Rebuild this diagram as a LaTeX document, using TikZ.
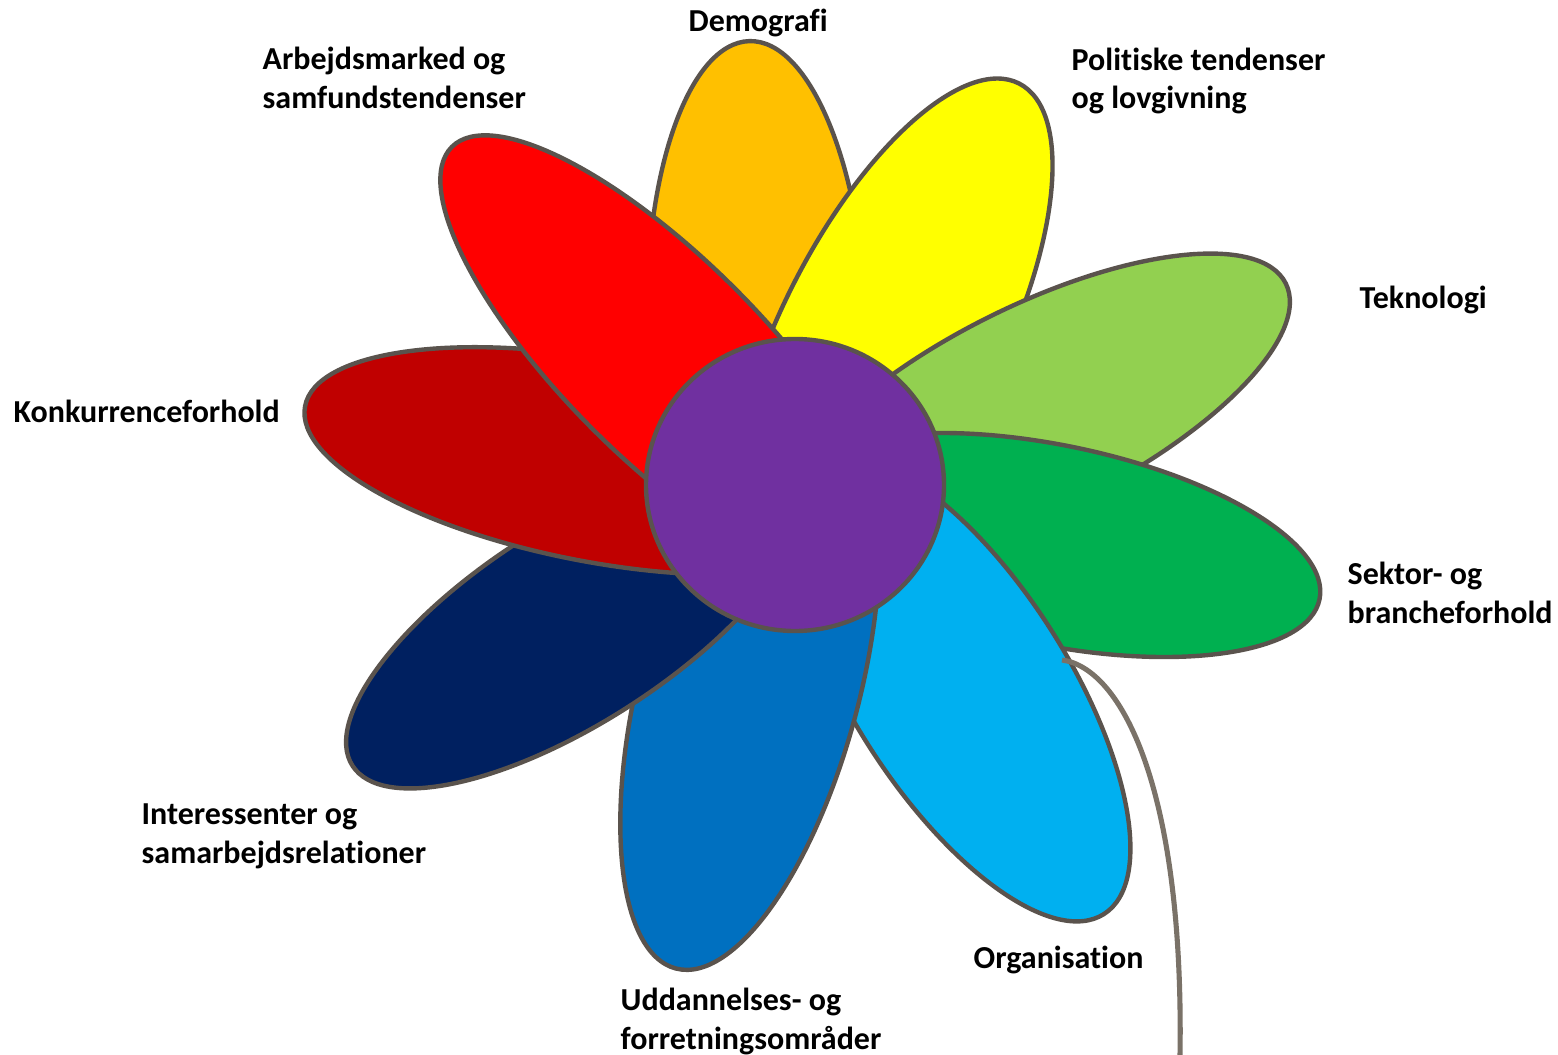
\documentclass[tikz,border=0pt]{standalone}
\usepackage{fontspec}
\setmainfont{Carlito}[Ligatures=NoCommon]
\definecolor{outl}{HTML}{5A534D}
\definecolor{stemc}{HTML}{7A7268}
\definecolor{cOrange}{HTML}{FFC000}
\definecolor{cYellow}{HTML}{FFFF00}
\definecolor{cLGreen}{HTML}{92D050}
\definecolor{cGreen}{HTML}{00B050}
\definecolor{cLBlue}{HTML}{00B0F0}
\definecolor{cBlue}{HTML}{0070C0}
\definecolor{cNavy}{HTML}{002060}
\definecolor{cDRed}{HTML}{C00000}
\definecolor{cRed}{HTML}{FF0000}
\definecolor{cPurple}{HTML}{7030A0}
\begin{document}
\begin{tikzpicture}[x=0.01cm,y=-0.01cm,
  petal/.style={draw=outl, line width=1.25pt},
  stemline/.style={draw=stemc, line width=1.45pt},
  lbl/.style={font=\fontsize{9.1}{10.95}\selectfont\bfseries, align=left, inner sep=0pt, anchor=west, text=black}]
\useasboundingbox (0,0) rectangle (1558,1055);
\fill[white] (0,0) rectangle (1558,1055);
% petals, each drawn over the previous one
\draw[petal, fill=cOrange, rotate around={91.5:(757,331)}] (757,331) ellipse [x radius=290, y radius=110];
\draw[petal, fill=cYellow, rotate around={63:(892,333)}] (892,333) ellipse [x radius=280, y radius=110];
\draw[petal, fill=cLGreen, rotate around={26.4:(1035,408)}] (1035,408) ellipse [x radius=280, y radius=102];
\draw[petal, fill=cGreen, rotate around={-11.5:(1053,545)}] (1053,545) ellipse [x radius=272, y radius=100];
\draw[petal, fill=cLBlue, rotate around={-57.5:(960,688)}] (960,688) ellipse [x radius=268, y radius=108];
\draw[petal, fill=cBlue, rotate around={75.4:(750,684)}] (750,684) ellipse [x radius=294, y radius=110];
\draw[petal, fill=cNavy, rotate around={32.6:(574,624)}] (574,624) ellipse [x radius=263, y radius=99];
\draw[petal, fill=cDRed, rotate around={-10.5:(600,461)}] (600,461) ellipse [x radius=300, y radius=101.5];
\draw[petal, fill=cRed, rotate around={-45:(664,359)}] (664,359) ellipse [x radius=300, y radius=100];
% centre
\draw[petal, fill=cPurple] (795,485) ellipse [x radius=149, y radius=146];
% stem
\coordinate (stemtop) at (1062,660);
\coordinate (stembot) at (1180,1055);
\draw[stemline] (stemtop) .. controls (1122,668) and (1184,790) .. (stembot);
% labels
\node[lbl] (demo) at (688,23) {Demografi};
\node[lbl] (arb) at (262,78) {Arbejdsmarked og\\samfundstendenser};
\node[lbl] (pol) at (1071,81) {Politiske tendenser\\og lovgivning};
\node[lbl] (tek) at (1359,300) {Teknologi};
\node[lbl] (konk) at (13,411) {Konkurrenceforhold};
\node[lbl] (sek) at (1347,593) {Sektor- og\\brancheforhold};
\node[lbl] (int) at (141,836.5) {Interessenter og\\samarbejdsrelationer};
\node[lbl] (org) at (973,960) {Organisation};
\node[lbl] (udd) at (620,1021.5) {Uddannelses- og\\forretningsområder};
\end{tikzpicture}
\end{document}
